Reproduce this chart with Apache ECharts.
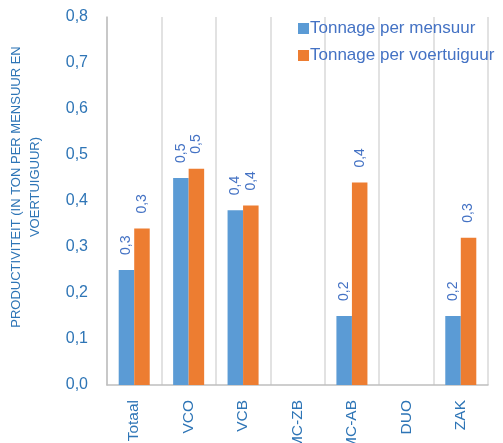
<!DOCTYPE html>
<html>
<head>
<meta charset="utf-8">
<script src="https://cdn.jsdelivr.net/npm/echarts@6/dist/echarts.min.js"></script>
<style>
  html, body { margin: 0; padding: 0; background: #fff; }
  #chart { width: 503px; height: 443px; }
</style>
</head>
<body>
<div id="chart"></div>
<script>
// Productivity per category
const categories = ['Totaal', 'VCO', 'VCB', 'MC-ZB', 'MC-AB', 'DUO', 'ZAK'];
const seriesNames = ['Tonnage per mensuur', 'Tonnage per voertuiguur'];
const tonnagePerMensuur = [0.25, 0.45, 0.38, null, 0.15, null, 0.15];
const tonnagePerVoertuiguur = [0.34, 0.47, 0.39, null, 0.44, null, 0.32];
const yTicks = [0, 0.1, 0.2, 0.3, 0.4, 0.5, 0.6, 0.7, 0.8];

const FONT = '"Liberation Sans", "DejaVu Sans", sans-serif';
const fmtComma = (v, d) => (Math.round(v * Math.pow(10, d) + 1e-9) / Math.pow(10, d)).toFixed(d).replace('.', ',');

const labelOpt = {
  show: true,
  position: 'top',
  rotate: 90,
  align: 'left',
  verticalAlign: 'middle',
  distance: 15,
  color: '#4472C4',
  fontFamily: FONT,
  fontSize: 14,
  formatter: p => p.value == null ? '' : fmtComma(p.value, 1)
};

const chart = echarts.init(document.getElementById('chart'), null, { renderer: 'canvas' });
chart.setOption({
  animation: false,
  backgroundColor: '#ffffff',
  grid: { left: 107, right: 15, top: 17, bottom: 58, containLabel: false, outerBoundsMode: 'none' },
  legend: {
    orient: 'vertical',
    left: 293,
    top: 15,
    itemWidth: 11,
    itemHeight: 11,
    itemGap: 10,
    icon: 'rect',
    textStyle: { color: '#4472C4', fontFamily: FONT, fontSize: 17, padding: [0, 0, 0, -4] },
    data: seriesNames
  },
  xAxis: {
    type: 'category',
    data: categories,
    axisLine: { lineStyle: { color: '#BFBFBF', width: 1.5 } },
    axisTick: { show: false },
    splitLine: { show: true, lineStyle: { color: '#D9D9D9', width: 1.5 } },
    axisLabel: {
      rotate: 90,
      margin: 15,
      interval: 0,
      color: '#2E75B6',
      fontFamily: FONT,
      fontSize: 15.5
    }
  },
  yAxis: {
    type: 'value',
    min: 0,
    max: 0.8,
    interval: 0.1,
    axisLine: { show: true, lineStyle: { color: '#BFBFBF', width: 1.5 } },
    axisTick: { show: false },
    splitLine: { show: false },
    axisLabel: {
      margin: 19,
      color: '#2E75B6',
      fontFamily: FONT,
      fontSize: 16,
      formatter: v => {
        const t = yTicks.find(x => Math.abs(x - v) < 1e-9);
        return fmtComma(t == null ? v : t, 1);
      }
    }
  },
  graphic: [{
    type: 'text',
    x: 26,
    y: 187,
    rotation: Math.PI / 2,
    style: {
      text: 'PRODUCTIVITEIT (IN TON PER MENSUUR EN\nVOERTUIGUUR)',
      fill: '#2E75B6',
      font: '13px ' + FONT,
      align: 'center',
      verticalAlign: 'middle',
      lineHeight: 19
    }
  }],
  series: [
    {
      name: seriesNames[0],
      type: 'bar',
      data: tonnagePerMensuur,
      barGap: '0%',
      barCategoryGap: '43%',
      itemStyle: { color: '#5B9BD5' },
      label: labelOpt
    },
    {
      name: seriesNames[1],
      type: 'bar',
      data: tonnagePerVoertuiguur,
      barGap: '0%',
      barCategoryGap: '43%',
      itemStyle: { color: '#ED7D31' },
      label: labelOpt
    }
  ]
});
</script>
</body>
</html>
